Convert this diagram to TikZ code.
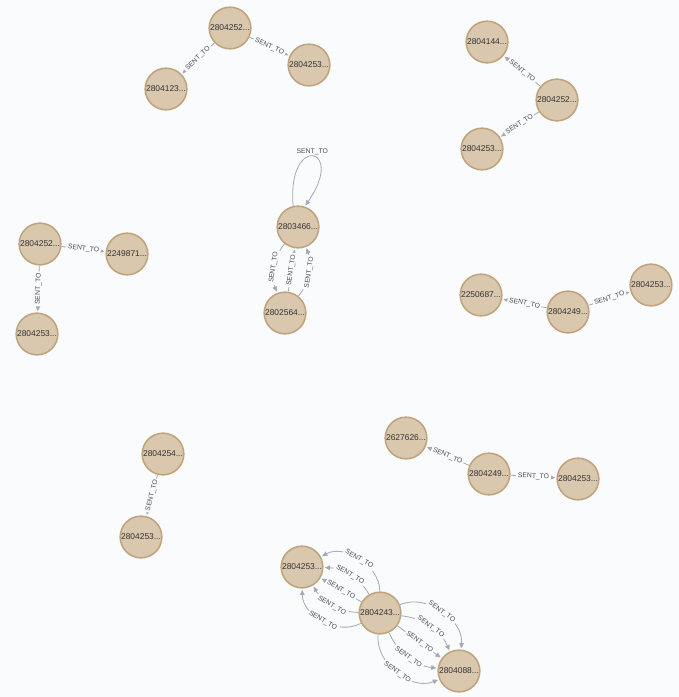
\documentclass[tikz,border=0pt]{standalone}
\usepackage{fontspec}
\setmainfont{Liberation Sans}
\usetikzlibrary{arrows.meta}
\definecolor{bgc}{HTML}{F9FBFD}
\definecolor{ndfill}{HTML}{D9C8AE}
\definecolor{ndline}{HTML}{C0A378}
\definecolor{relc}{HTML}{A5ABB6}
\begin{document}
\begin{tikzpicture}[x={(0.03cm,0)},y={(0,-0.03cm)},
nd/.style={circle,fill=ndfill,draw=ndline,line width=1.3pt,minimum size=1.25cm,inner sep=0pt,
font=\fontsize{7.2}{8}\selectfont,text=black!80},
rel/.style={draw=relc,line width=0.7pt,-{Triangle[length=4.5pt,width=4pt]},shorten >=1pt},
lbl/.style={sloped,fill=bgc,inner sep=1.5pt,text=black!70,font=\fontsize{5.8}{6}\selectfont}]
\fill[bgc] (0,0) rectangle (679,697);
\foreach \N/\X/\Y/\T in {A1/230/28/2804252,A2/309/65/2804253,A3/166/89/2804123,
B1/487/42/2804144,B2/557/100/2804252,B3/482/149/2804253,
C1/298/227/2803466,C2/285/313/2802564,
D1/40/244/2804252,D2/127/254/2249871,D3/37/334/2804253,
E1/481/295/2250687,E2/568/312/2804249,E3/651/285/2804253,
F1/163/454/2804254,F2/141/537/2804253,
G1/406/438/2627626,G2/489/474/2804249,G3/578/479/2804253,
H1/302/567/2804253,H2/380/613/2804243,H3/459/671/2804088}
{\node[nd] (\N) at (\X,\Y) {\T...};}
\foreach \S/\E in {A1/A3,A1/A2,B2/B1,B2/B3,D1/D2,D1/D3,E2/E1,E2/E3,F1/F2,G2/G1,G2/G3}
{\draw[rel] (\S) -- node[lbl]{SENT\_TO} (\E);}
\draw[rel] (C1.103) .. controls +(95:2.2cm) and +(55:2.2cm) .. node[above,inner sep=1pt,text=black!70,
font=\fontsize{5.8}{6}\selectfont]{SENT\_TO} (C1.72);
\draw[rel] (C1) to[bend right=30] node[lbl]{SENT\_TO} (C2);
\draw[rel] (C2) -- node[lbl]{SENT\_TO} (C1);
\draw[rel] (C2) to[bend right=30] node[lbl]{SENT\_TO} (C1);
\foreach \B in {-59,-29,0,29,59}
{\draw[rel] (H2) to[bend left=\B] node[lbl]{SENT\_TO} (H1);
\draw[rel] (H2) to[bend left=\B] node[lbl]{SENT\_TO} (H3);}
\end{tikzpicture}
\end{document}
